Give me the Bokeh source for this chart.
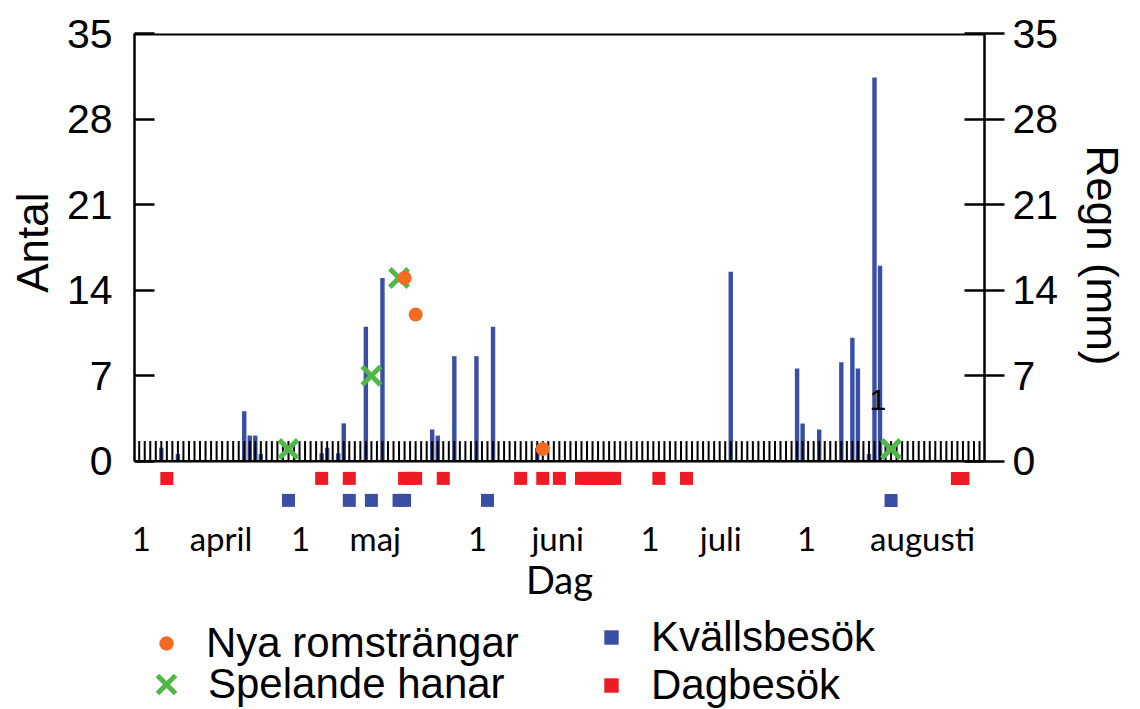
import numpy as np
from bokeh.plotting import figure
from bokeh.layouts import column
from bokeh.models import (Range1d, LinearAxis, FixedTicker, Span, Label,
                          Legend, LegendItem, Title)
from bokeh.embed import file_html
from bokeh.resources import INLINE

# ---------------- data (day 1 = 1 april) ----------------
rain_day = [5, 8, 20, 21, 22, 23, 34, 35, 37, 38, 42, 45, 54, 55, 58, 62, 65,
            73, 108, 120, 121, 124, 128, 130, 131, 133, 134, 135]
rain_mm = [1.1, 0.6, 4.1, 2.1, 2.1, 0.6, 0.65, 1.1, 0.65, 3.1, 11.0, 15.0,
           2.6, 2.1, 8.6, 8.6, 11.0, 1.1, 15.5, 7.6, 3.1, 2.6, 8.1, 10.1,
           7.6, 0.6, 31.4, 16.0]

dag_days = [6, 34, 39, 49, 50, 51, 56, 70, 74, 77, 81, 82, 83, 84, 85, 86,
            87, 95, 100, 149, 150]
kvall_days = [28, 39, 43, 48, 49, 64, 137]

rom_days = [49, 51, 74]
rom_count = [15, 12, 1]
hanar_days = [28, 43, 48, 137]
hanar_count = [1, 7, 15, 1]

y_ticks = [0, 7, 14, 21, 28, 35]
month_tick_pos = [1.4, 15.8, 30.2, 43.7, 62.2, 76.7, 93.4, 106.2, 121.7, 142.7]
month_tick_labels = ["1", "april", "1", "maj", "1", "juni", "1", "juli", "1",
                     "augusti"]

season_days = list(range(0, 154))
band_height = 1.65
dag_row = -1.4
kvall_row = -3.2
note_day, note_y, note_text = 134.6, 5.0, "1"

BLUE = "#3a4fa3"
RED = "#ed1c24"
ORANGE = "#f26b21"
GREEN = "#4fb848"
HELV = "Liberation Sans"
NARROW = "Lato"

p = figure(width=1140, height=604,
           x_range=Range1d(0.15, 153.9), y_range=Range1d(-4.6, 35),
           output_backend="svg", toolbar_location=None,
           min_border_left=133, min_border_right=153,
           min_border_top=33, min_border_bottom=84)
p.outline_line_color = None
p.grid.visible = False
p.background_fill_color = "white"
p.border_fill_color = "white"

xa = p.below[0]
ya = p.left[0]

# rain bars
p.vbar(x=rain_day, top=rain_mm, bottom=0, width=0.8,
       fill_color=BLUE, line_color=None)

# hatched band
p.segment(x0=season_days, x1=season_days, y0=[0] * len(season_days),
          y1=[band_height] * len(season_days), line_color="black",
          line_width=2)

p.add_layout(Span(location=0, dimension="width", line_color="black",
                  line_width=2.5))
p.add_layout(Span(location=35, dimension="width", line_color="black",
                  line_width=4))

# visits
marker_styles = {
    "dag": dict(marker="square", size=13, fill_color=RED, line_color=None),
    "kv": dict(marker="square", size=13, fill_color=BLUE, line_color=None),
    "han": dict(marker="x", size=26, line_color=GREEN, line_width=5),
    "rom": dict(marker="circle", size=14, fill_color=ORANGE, line_color=None),
}
p.scatter(x=dag_days, y=[dag_row] * len(dag_days), **marker_styles["dag"])
p.scatter(x=kvall_days, y=[kvall_row] * len(kvall_days), **marker_styles["kv"])
p.scatter(x=hanar_days, y=hanar_count, **marker_styles["han"])
p.scatter(x=rom_days, y=rom_count, **marker_styles["rom"])

p.add_layout(Label(x=note_day, y=note_y, text=note_text, text_align="center",
                   text_baseline="middle", text_font=HELV,
                   text_font_size="30px", text_color="black"))

# x axis
xa.ticker = FixedTicker(ticks=month_tick_pos)
xa.major_label_overrides = dict(zip(month_tick_pos, month_tick_labels))
xa.axis_line_color = None
xa.major_tick_line_color = None
xa.minor_tick_line_color = None
xa.major_tick_in = 0
xa.major_tick_out = 0
xa.minor_tick_in = 0
xa.minor_tick_out = 0
xa.major_label_standoff = 0
xa.major_label_text_font = NARROW
xa.major_label_text_font_size = "33px"
xa.major_label_text_color = "black"
xa.axis_label = "Dag"
xa.axis_label_text_font = NARROW
xa.axis_label_text_font_size = "38px"
xa.axis_label_text_font_style = "normal"
xa.axis_label_standoff = -5
xa.axis_label_text_color = "black"

# left axis
ya.bounds = (0, 35)
ya.ticker = FixedTicker(ticks=y_ticks)
ya.major_tick_in = 20
ya.major_tick_out = 0
ya.minor_tick_line_color = None
ya.minor_tick_in = 0
ya.minor_tick_out = 0
ya.axis_line_width = 2.5
ya.major_tick_line_width = 2.5
ya.major_label_text_font = HELV
ya.major_label_text_font_size = "41px"
ya.major_label_text_color = "black"
ya.major_label_standoff = 22

p.add_layout(Title(text="Antal", align="right", offset=159,
                   vertical_align="middle", standoff=12, text_font=HELV,
                   text_font_size="44px", text_font_style="normal",
                   text_color="black"), "left")

# right axis
yr = LinearAxis(bounds=(0, 35), ticker=FixedTicker(ticks=y_ticks))
yr.major_tick_in = 20
yr.major_tick_out = 20
yr.minor_tick_line_color = None
yr.minor_tick_in = 0
yr.minor_tick_out = 0
yr.axis_line_width = 2.5
yr.major_tick_line_width = 2.5
yr.major_label_text_font = HELV
yr.major_label_text_font_size = "41px"
yr.major_label_text_color = "black"
yr.major_label_standoff = 8
p.add_layout(yr, "right")

p.add_layout(Title(text="Regn (mm)", align="left", offset=112,
                   vertical_align="top", standoff=28, text_font=HELV,
                   text_font_size="44px", text_font_style="normal",
                   text_color="black"), "right")

# ---------------- legend strip below the chart ----------------
pl = figure(width=1140, height=105, x_range=Range1d(0, 1),
            y_range=Range1d(0, 1), output_backend="svg",
            toolbar_location=None, x_axis_location=None,
            y_axis_location=None, min_border=0)
pl.outline_line_color = None
pl.grid.visible = False
pl.background_fill_color = "white"
pl.border_fill_color = "white"

# legend-only renderers (their single point lies outside the visible range)
l_rom = pl.scatter(x=[-10], y=[-10], **marker_styles["rom"])
l_han = pl.scatter(x=[-10], y=[-10], **marker_styles["han"])
l_kv = pl.scatter(x=[-10], y=[-10], **marker_styles["kv"])
l_dag = pl.scatter(x=[-10], y=[-10], **marker_styles["dag"])


def make_legend(items, loc, glyph, standoff):
    lg = Legend(items=items, location=loc, orientation="vertical")
    lg.border_line_color = None
    lg.background_fill_alpha = 0
    lg.padding = 0
    lg.margin = 0
    lg.spacing = 0
    lg.glyph_width = glyph
    lg.glyph_height = glyph
    lg.label_standoff = standoff
    lg.label_text_font = HELV
    lg.label_text_font_size = "42px"
    lg.label_text_color = "black"
    return lg


pl.add_layout(make_legend([LegendItem(label="Nya romsträngar", renderers=[l_rom])],
                          (14, 42), 36, 22))
pl.add_layout(make_legend([LegendItem(label="Spelande hanar", renderers=[l_han])],
                          (0, -7), 64, 10))
pl.add_layout(make_legend([LegendItem(label="Kvällsbesök", renderers=[l_kv]),
                           LegendItem(label="Dagbesök", renderers=[l_dag])],
                          (459, 0), 36, 22))

root = column(p, pl, spacing=0)
open("out.html", "w").write(file_html(root, INLINE))
